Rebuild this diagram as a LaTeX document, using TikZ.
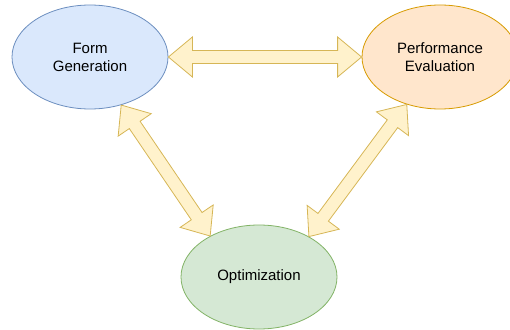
\documentclass[tikz,border=0pt]{standalone}
\usepackage{fontspec}
\setmainfont{Liberation Sans}
\usetikzlibrary{shapes.geometric, calc}

\definecolor{azulfundo}{HTML}{DAE8FC}
\definecolor{azulborda}{HTML}{6C8EBF}
\definecolor{laranjafundo}{HTML}{FFE6CC}
\definecolor{laranjaborda}{HTML}{D79B00}
\definecolor{verdefundo}{HTML}{D5E8D4}
\definecolor{verdeborda}{HTML}{82B366}
\definecolor{setafundo}{HTML}{FFF2CC}
\definecolor{setaborda}{HTML}{D6B656}

\tikzset{
	elipse/.style={ellipse, line width=0.8pt, minimum width=156pt, minimum height=104pt,
		inner sep=0pt, align=center, font=\fontsize{15}{18}\selectfont},
	seta/.style={draw=setaborda, fill=setafundo, line width=0.8pt, line join=miter}
}

% seta dupla larga entre dois pontos (cabeca 24pt, meia largura 20pt, meio corpo 6.5pt)
\newcommand{\ligar}[2]{%
	\draw[seta] (#1)
		-- ($(#1)!24pt!(#2)!20pt!90:(#2)$) -- ($(#1)!24pt!(#2)!6.5pt!90:(#2)$)
		-- ($(#2)!24pt!(#1)!6.5pt!-90:(#1)$) -- ($(#2)!24pt!(#1)!20pt!-90:(#1)$)
		-- (#2)
		-- ($(#2)!24pt!(#1)!20pt!90:(#1)$) -- ($(#2)!24pt!(#1)!6.5pt!90:(#1)$)
		-- ($(#1)!24pt!(#2)!6.5pt!-90:(#2)$) -- ($(#1)!24pt!(#2)!20pt!-90:(#2)$)
		-- cycle;}

\begin{document}
\begin{tikzpicture}[x=1pt, y=1pt]
				\useasboundingbox (0, 0) rectangle (510, 329);

				\node[elipse, draw=azulborda, fill=azulfundo] (forma) at (90, 272) {Form\\Generation};
				\node[elipse, draw=laranjaborda, fill=laranjafundo] (desempenho) at (440, 272) {Performance\\Evaluation};
				\node[elipse, draw=verdeborda, fill=verdefundo] (otimizacao) at (259, 52) {Optimization};

				\ligar{forma.east}{desempenho.west}
				\ligar{forma.-57}{otimizacao.140}
				\ligar{desempenho.235}{otimizacao.39}
			\end{tikzpicture}
\end{document}
